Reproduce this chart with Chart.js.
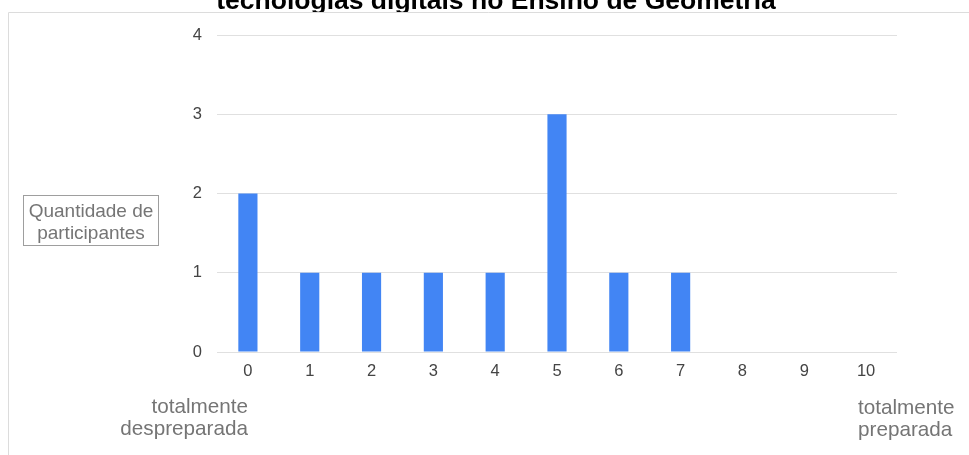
<!DOCTYPE html>
<html>
<head>
<meta charset="utf-8">
<script src="https://cdn.jsdelivr.net/npm/chart.js@4/dist/chart.umd.min.js"></script>
<style>
    html, body { margin: 0; padding: 0; background: #fff; }
    #wrap { width: 969px; height: 455px; }
</style>
</head>
<body>
<div id="wrap"><canvas id="chart" width="969" height="455"></canvas></div>
<script>
(function () {
    'use strict';

    // self-assessed preparation, 0 (totalmente despreparada) .. 10 (totalmente preparada)
    var categories = ['0', '1', '2', '3', '4', '5', '6', '7', '8', '9', '10'],
        participantCounts = [2, 1, 1, 1, 1, 3, 1, 1, 0, 0, 0],
        yTicks = [0, 1, 2, 3, 4],

        titleText = 'tecnologias digitais no Ensino de Geometria',
        yLabelLines = ['Quantidade de', 'participantes'],
        lowEndLines = ['totalmente', 'despreparada'],
        highEndLines = ['totalmente', 'preparada'],

        FONT = "'Liberation Sans', Arial, sans-serif",
        BAR_BLUE = '#4285f4',
        GRID_GREY = '#e0e0e0',
        TICK_GREY = '#444444',
        NOTE_GREY = '#757575',

        drawLines = function (ctx, lines, x, y, lineHeight) {
            lines.forEach(function (line, i) {
                ctx.fillText(line, x, y + i * lineHeight);
            });
        },

        // frame, clipped title and the free-standing labels around the plot
        decorations = {
            id: 'decorations',
            afterDraw: function (chart) {
                var ctx = chart.ctx;

                ctx.save();

                // title: only its lower part is inside the frame
                ctx.save();
                ctx.beginPath();
                ctx.rect(0, 0, chart.width, 12);
                ctx.clip();
                ctx.fillStyle = '#000';
                ctx.font = 'bold 26.5px ' + FONT;
                ctx.textAlign = 'center';
                ctx.textBaseline = 'alphabetic';
                ctx.fillText(titleText, 496, 9);
                ctx.restore();

                ctx.strokeStyle = '#dcdcdc';
                ctx.lineWidth = 1;
                ctx.beginPath();
                ctx.moveTo(8.5, chart.height);
                ctx.lineTo(8.5, 12.5);
                ctx.lineTo(chart.width, 12.5);
                ctx.stroke();

                // boxed y axis title
                ctx.strokeStyle = '#9e9e9e';
                ctx.strokeRect(23.5, 195.5, 135, 50);
                ctx.fillStyle = NOTE_GREY;
                ctx.font = '19px ' + FONT;
                ctx.textAlign = 'center';
                ctx.textBaseline = 'middle';
                drawLines(ctx, yLabelLines, 91, 212, 22);

                // scale end notes under the first and last category
                ctx.font = '20.7px ' + FONT;
                ctx.textAlign = 'right';
                drawLines(ctx, lowEndLines, 248, 407, 22);
                ctx.textAlign = 'left';
                drawLines(ctx, highEndLines, 858, 408, 22);

                ctx.restore();
            }
        };

    new Chart(document.getElementById('chart'), {
        type: 'bar',
        data: {
            labels: categories,
            datasets: [{
                data: participantCounts,
                backgroundColor: BAR_BLUE,
                borderWidth: 0,
                categoryPercentage: 1,
                barPercentage: 0.31
            }]
        },
        options: {
            responsive: false,
            animation: false,
            devicePixelRatio: 1,
            layout: { padding: { left: 0, right: 72, top: 35, bottom: 0 } },
            plugins: {
                legend: { display: false },
                tooltip: { enabled: false }
            },
            scales: {
                x: {
                    grid: { display: false, drawTicks: false },
                    border: { display: false },
                    ticks: {
                        color: TICK_GREY,
                        padding: 10,
                        font: { family: FONT, size: 16.5 },
                        maxRotation: 0
                    },
                    afterFit: function (scale) { scale.height = 103; }
                },
                y: {
                    min: yTicks[0],
                    max: yTicks[yTicks.length - 1],
                    grid: { color: GRID_GREY, drawTicks: false },
                    border: { display: false },
                    ticks: {
                        stepSize: 1,
                        color: TICK_GREY,
                        padding: 15,
                        font: { family: FONT, size: 16.5 }
                    },
                    afterFit: function (scale) { scale.width = 217; }
                }
            }
        },
        plugins: [decorations]
    });
}());
</script>
</body>
</html>
